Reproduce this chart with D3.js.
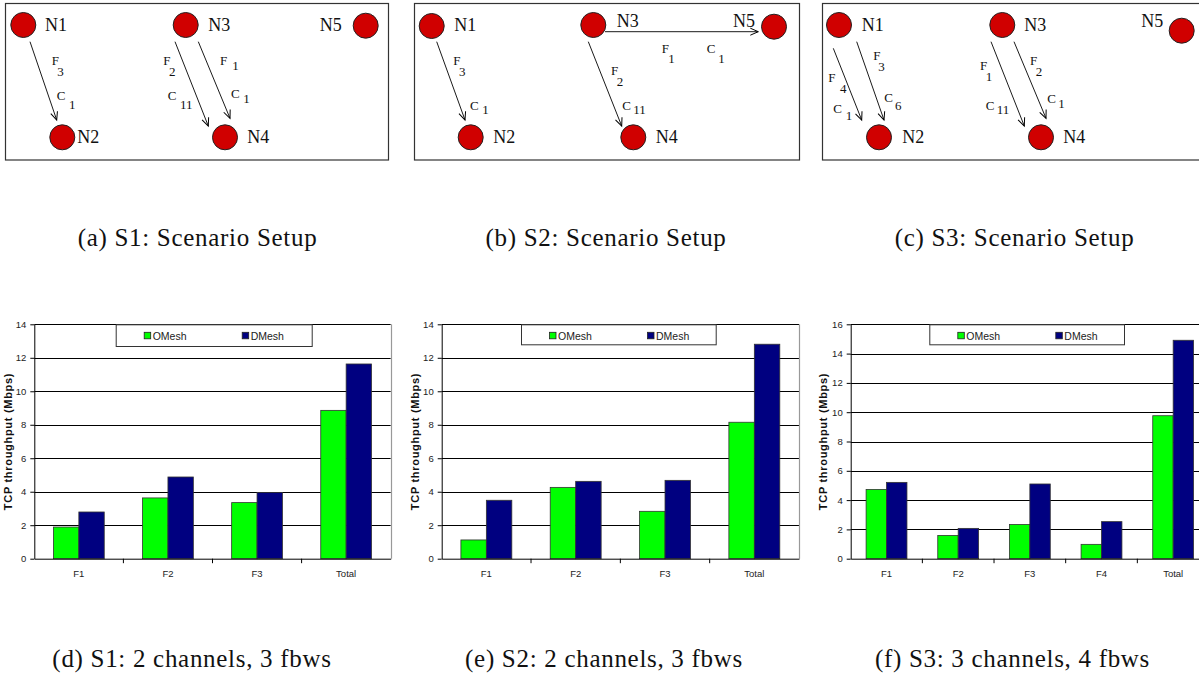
<!DOCTYPE html>
<html>
<head>
<meta charset="utf-8">
<script src="https://cdn.jsdelivr.net/npm/d3@7"></script>
<style>
  body { margin: 0; background: #fff; }
  svg { display: block; }
</style>
</head>
<body>
<script>
/* global d3 */

const W = 1199, H = 675

const svg = d3.select('body').append('svg')
  .attr('width', W)
  .attr('height', H)

// ---- data ----

const seriesNames = ['OMesh', 'DMesh']
const seriesColors = ['#00ff00', '#000080']

const s1Flows = ['F1', 'F2', 'F3', 'Total']
const s1OMesh = [1.89, 3.63, 3.35, 8.86]
const s1DMesh = [2.79, 4.88, 3.96, 11.63]

const s2Flows = ['F1', 'F2', 'F3', 'Total']
const s2OMesh = [1.12, 4.26, 2.83, 8.15]
const s2DMesh = [3.49, 4.62, 4.68, 12.81]

const s3Flows = ['F1', 'F2', 'F3', 'F4', 'Total']
const s3OMesh = [4.73, 1.59, 2.34, 0.98, 9.76]
const s3DMesh = [5.21, 2.07, 5.10, 2.53, 14.91]

const ticks14 = [0, 2, 4, 6, 8, 10, 12, 14]
const ticks16 = [0, 2, 4, 6, 8, 10, 12, 14, 16]

const yTitle = 'TCP throughput (Mbps)'

const topCaptions = ['(a) S1: Scenario Setup', '(b) S2: Scenario Setup', '(c) S3: Scenario Setup']
const bottomCaptions = ['(d) S1: 2 channels, 3 fbws', '(e) S2: 2 channels, 3 fbws', '(f) S3: 3 channels, 4 fbws']

// topology: nodes and flows (from, to, flow, channel) per scenario
const nodeNames = ['N1', 'N2', 'N3', 'N4', 'N5']
const s1Links = [['N1', 'N2', '3', '1'], ['N3', 'N4', '2', '11'], ['N3', 'N4', '1', '1']]
const s2Links = [['N1', 'N2', '3', '1'], ['N3', 'N5', '1', '1'], ['N3', 'N4', '2', '11']]
const s3Links = [['N1', 'N2', '4', '1'], ['N1', 'N2', '3', '6'], ['N3', 'N4', '1', '11'], ['N3', 'N4', '2', '1']]

// ---- layout (panel-local) ----

const panels = [
  { left: 5, right: 388, links: s1Links,
    nodes: { N1: [18.3, 25, 40, 31, 'start'], N3: [180.7, 25, 203.3, 31, 'start'], N5: [360.7, 25.7, 336.7, 31, 'end'],
      N2: [57.3, 137.3, 72.3, 143.3, 'start'], N4: [220, 137.3, 242.3, 143.3, 'start'] },
    // line x1,y1,x2,y2, F pos, F sub pos, C pos, C sub pos
    edges: [
      [25, 41.7, 51.7, 120, [46.7, 65], [52.3, 76], [51.7, 100], [64, 109]],
      [170, 41.7, 203.3, 126, [158.3, 65], [164, 76], [162.7, 100], [175, 109]],
      [193.3, 41.7, 225, 118.3, [215, 65], [227.3, 70], [226, 98], [238.3, 103]]
    ] },
  { left: 414, right: 799, links: s2Links,
    nodes: { N1: [17.7, 26, 40.3, 31, 'start'], N3: [179.3, 25, 202.7, 26.7, 'start'], N5: [360, 26.7, 341, 26.7, 'end'],
      N2: [56.7, 137.3, 79.3, 143.3, 'start'], N4: [219.3, 137.3, 241.7, 143.3, 'start'] },
    edges: [
      [22.7, 41.7, 51, 120, [39.3, 65], [45, 76], [56, 110], [68.3, 114]],
      [191, 31.7, 344.3, 31.7, [247.7, 53.3], [254.3, 63.3], [292.7, 53.3], [304.3, 63.3]],
      [174.3, 41.7, 207.7, 126, [197, 75], [202.7, 86], [208.3, 110], [219.3, 114]]
    ] },
  { left: 822, right: 1210, links: s3Links,
    nodes: { N1: [17, 25, 39.7, 31, 'start'], N3: [180.3, 25, 202.3, 31, 'start'], N5: [359.7, 30.7, 341.3, 27, 'end'],
      N2: [57, 137.3, 80.3, 143.3, 'start'], N4: [219, 137.3, 241.3, 143.3, 'start'] },
    edges: [
      [11.3, 48.3, 39.7, 120, [6.3, 81.7], [18, 92.7], [11.3, 113.3], [23.7, 120]],
      [34.7, 41.7, 62, 120, [51.3, 60], [56.3, 70.7], [62.3, 101.7], [73, 110]],
      [169, 41.7, 202.3, 126, [158, 70], [163.7, 81], [163.7, 110], [174.7, 114]],
      [192, 41.7, 224, 118.3, [208, 65], [213.7, 76], [225.3, 103.3], [236.3, 108.3]]
    ] }
]

const serif = '"Liberation Serif", "Times New Roman", serif'
const sans = '"Liberation Sans", Arial, sans-serif'

svg.append('defs').append('marker')
  .attr('id', 'arrow')
  .attr('viewBox', '-10 -5 12 10')
  .attr('refX', 0).attr('refY', 0)
  .attr('markerWidth', 12).attr('markerHeight', 10)
  .attr('markerUnits', 'userSpaceOnUse')
  .attr('orient', 'auto')
  .append('path')
  .attr('d', 'M-8,-3.5 L0,0 L-8,3.5')
  .attr('fill', 'none')
  .attr('stroke', '#000')
  .attr('stroke-width', 1)

panels.forEach(p => {
  const g = svg.append('g').attr('transform', `translate(${p.left},0)`)

  g.append('rect')
    .attr('x', 0.5).attr('y', 3.5)
    .attr('width', p.right - p.left).attr('height', 156.5)
    .attr('fill', 'none')
    .attr('stroke', '#333')
    .attr('stroke-width', 1.2)

  g.selectAll('line.edge').data(p.edges)
    .join('line')
    .attr('class', 'edge')
    .attr('x1', d => d[0]).attr('y1', d => d[1])
    .attr('x2', d => d[2]).attr('y2', d => d[3])
    .attr('stroke', '#000')
    .attr('stroke-width', 0.9)
    .attr('marker-end', 'url(#arrow)')

  p.edges.forEach((e, i) => {
    const link = p.links[i]
    const lbl = (pos, txt) => g.append('text')
      .attr('x', pos[0]).attr('y', pos[1])
      .attr('font-family', serif).attr('font-size', 13)
      .attr('fill', '#111')
      .text(txt)
    lbl(e[4], 'F')
    lbl(e[5], link[2])
    lbl(e[6], 'C')
    lbl(e[7], link[3])
  })

  const nodes = nodeNames.map(n => ({ name: n, pos: p.nodes[n] }))

  g.selectAll('circle').data(nodes)
    .join('circle')
    .attr('cx', d => d.pos[0]).attr('cy', d => d.pos[1])
    .attr('r', 12.5)
    .attr('fill', '#d00000')
    .attr('stroke', '#222')
    .attr('stroke-width', 1)

  g.selectAll('text.node').data(nodes)
    .join('text')
    .attr('class', 'node')
    .attr('x', d => d.pos[2]).attr('y', d => d.pos[3])
    .attr('text-anchor', d => d.pos[4])
    .attr('font-family', serif).attr('font-size', 18)
    .attr('fill', '#111')
    .text(d => d.name)
})

// ---- captions ----

const capTop = [197.5, 606, 1014.5]
const capBottom = [192, 604, 1012.5]

svg.selectAll('text.captop').data(topCaptions)
  .join('text')
  .attr('class', 'captop')
  .attr('x', (d, i) => capTop[i]).attr('y', 246)
  .attr('text-anchor', 'middle')
  .attr('font-family', serif).attr('font-size', 25)
  .attr('letter-spacing', 0.7)
  .attr('fill', '#111')
  .text(d => d)

svg.selectAll('text.capbot').data(bottomCaptions)
  .join('text')
  .attr('class', 'capbot')
  .attr('x', (d, i) => capBottom[i]).attr('y', 667)
  .attr('text-anchor', 'middle')
  .attr('font-family', serif).attr('font-size', 25)
  .attr('letter-spacing', 0.7)
  .attr('fill', '#111')
  .text(d => d)

// ---- bar charts ----

function barChart (cfg) {
  const { x0, x1, y0, y1, flows, omesh, dmesh, ticks, legend, titleX } = cfg
  const g = svg.append('g')

  const x = d3.scaleBand().domain(flows).range([x0, x1]).paddingInner(0.43).paddingOuter(0.215)
  const xb = d3.scaleBand().domain(flows).range([x0, x1])
  const y = d3.scaleLinear().domain([0, d3.max(ticks)]).range([y0, y1])
  const xs = d3.scaleBand().domain(seriesNames).range([0, x.bandwidth()])

  // grid
  g.selectAll('line.grid').data(ticks.filter(t => t > 0))
    .join('line')
    .attr('class', 'grid')
    .attr('x1', x0).attr('x2', x1)
    .attr('y1', d => Math.round(y(d)) + 0.5).attr('y2', d => Math.round(y(d)) + 0.5)
    .attr('stroke', '#000')
    .attr('stroke-width', 1)

  g.append('line')
    .attr('x1', Math.round(x1) + 0.5).attr('x2', Math.round(x1) + 0.5)
    .attr('y1', y1).attr('y2', y0)
    .attr('stroke', '#999')
    .attr('stroke-width', 1.2)

  const rows = flows.map((f, i) => ({ flow: f, vals: [omesh[i], dmesh[i]] }))

  g.selectAll('g.grp').data(rows)
    .join('g')
    .attr('class', 'grp')
    .attr('transform', d => `translate(${x(d.flow)},0)`)
    .selectAll('rect')
    .data(d => d.vals.map((v, i) => ({ s: seriesNames[i], v, i })))
    .join('rect')
    .attr('x', d => xs(d.s))
    .attr('y', d => y(d.v))
    .attr('width', xs.bandwidth())
    .attr('height', d => y0 - y(d.v))
    .attr('fill', d => seriesColors[d.i])
    .attr('stroke', '#333')
    .attr('stroke-width', 0.8)

  // y axis
  const ya = g.append('g')
    .attr('transform', `translate(${x0},0)`)
    .call(d3.axisLeft(y).tickValues(ticks).tickSize(4).tickPadding(4).tickSizeOuter(0))
  ya.select('.domain').attr('stroke', '#000')
  ya.selectAll('text').attr('font-family', sans).attr('font-size', 9.5).attr('fill', '#222')

  // x axis
  const xa = g.append('g')
    .attr('transform', `translate(0,${y0})`)
    .call(d3.axisBottom(xb).tickSize(0).tickPadding(12).tickSizeOuter(0))
  xa.select('.domain').attr('stroke', '#000')
  xa.selectAll('text').attr('font-family', sans).attr('font-size', 9.5).attr('fill', '#222')

  g.selectAll('line.xtick').data(flows.slice(1))
    .join('line')
    .attr('class', 'xtick')
    .attr('x1', d => xb(d)).attr('x2', d => xb(d))
    .attr('y1', y0).attr('y2', y0 + 4.5)
    .attr('stroke', '#000')

  g.append('text')
    .attr('transform', `translate(${titleX},${(y0 + y1) / 2}) rotate(-90)`)
    .attr('text-anchor', 'middle')
    .attr('dominant-baseline', 'central')
    .attr('font-family', sans).attr('font-size', 11).attr('font-weight', 'bold')
    .attr('letter-spacing', 0.7)
    .attr('fill', '#111')
    .text(yTitle)

  // legend
  const lg = g.append('g')
  lg.append('rect')
    .attr('x', legend[0] + 0.5).attr('y', y1 + 0.5)
    .attr('width', legend[1] - legend[0]).attr('height', legend[2])
    .attr('fill', '#fff')
    .attr('stroke', '#333')
    .attr('stroke-width', 1)

  const items = lg.selectAll('g.item').data(seriesNames)
    .join('g')
    .attr('class', 'item')
    .attr('transform', (d, i) => `translate(${legend[0] + 28.5 + i * 98},${y1 + 8})`)
  items.append('rect')
    .attr('width', 6.5).attr('height', 6.5)
    .attr('fill', (d, i) => seriesColors[i])
    .attr('stroke', '#222')
    .attr('stroke-width', 0.8)
  items.append('text')
    .attr('x', 8.5).attr('y', 7.5)
    .attr('font-family', sans).attr('font-size', 10.5)
    .attr('fill', '#222')
    .text(d => d)
}

barChart({ x0: 34.3, x1: 390.7, y0: 558.7, y1: 324.3, flows: s1Flows, omesh: s1OMesh, dmesh: s1DMesh,
  ticks: ticks14, legend: [115.7, 311.7, 21.7], titleX: 8 })
barChart({ x0: 441.7, x1: 799, y0: 558.7, y1: 324.3, flows: s2Flows, omesh: s2OMesh, dmesh: s2DMesh,
  ticks: ticks14, legend: [521, 715.7, 20], titleX: 415 })
barChart({ x0: 850.7, x1: 1209, y0: 558.7, y1: 324.3, flows: s3Flows, omesh: s3OMesh, dmesh: s3DMesh,
  ticks: ticks16, legend: [929.3, 1124, 20], titleX: 823 })
</script>
</body>
</html>
